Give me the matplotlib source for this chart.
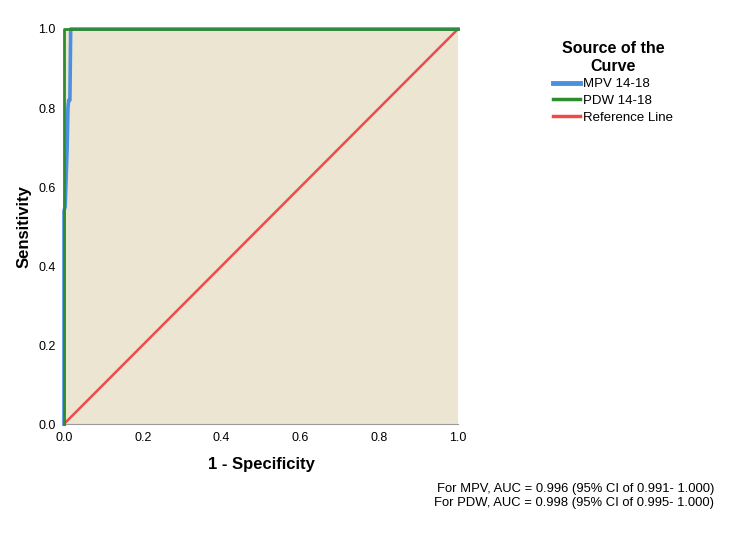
import matplotlib.pyplot as plt
from matplotlib.lines import Line2D

# ROC data
mpv_fpr = [0.0, 0.0, 0.003, 0.008, 0.010, 0.012, 0.015, 0.017, 1.0]
mpv_tpr = [0.0, 0.54, 0.55, 0.70, 0.80, 0.82, 0.82, 1.0, 1.0]
pdw_fpr = [0.0, 0.0, 1.0]
pdw_tpr = [0.0, 1.0, 1.0]
ref_fpr = [0.0, 1.0]
ref_tpr = [0.0, 1.0]

labels = ["MPV 14-18", "PDW 14-18", "Reference Line"]
colors = ["#4a90e2", "#2e8b2e", "#f04a4a"]
ticks = [0.0, 0.2, 0.4, 0.6, 0.8, 1.0]
notes = ["For MPV, AUC = 0.996 (95% CI of 0.991- 1.000)",
         "For PDW, AUC = 0.998 (95% CI of 0.995- 1.000)"]

plt.rcParams['font.family'] = ['Liberation Sans', 'DejaVu Sans']

fig = plt.figure(figsize=(7.44, 5.37), dpi=100)
ax = fig.add_axes([0.086, 0.2104, 0.5296, 0.7356])
ax.set_facecolor("#ebe5d2")

ax.plot(ref_fpr, ref_tpr, color=colors[2], lw=1.8, clip_on=False, zorder=3)
ax.plot(mpv_fpr, mpv_tpr, color=colors[0], lw=2.6, clip_on=False, zorder=4)
ax.plot(pdw_fpr, pdw_tpr, color=colors[1], lw=2.0, clip_on=False, zorder=5)

ax.set_xlim(0, 1)
ax.set_ylim(0, 1)
ax.set_xticks(ticks)
ax.set_yticks(ticks)
ax.set_xticklabels(["%.1f" % t for t in ticks], fontsize=9)
ax.set_yticklabels(["%.1f" % t for t in ticks], fontsize=9)
ax.tick_params(length=0)
ax.tick_params(axis="x", pad=6)
ax.tick_params(axis="y", pad=6)
for s in ["top", "right"]:
    ax.spines[s].set_visible(False)
ax.spines["bottom"].set_color("#9a9a9a")
ax.spines["left"].set_color("#9a9a9a")

ax.set_xlabel("1 - Specificity", fontsize=12, fontweight="bold", labelpad=9)
ax.set_ylabel("Sensitivity", fontsize=12, fontweight="bold", labelpad=5)

handles = [Line2D([0], [0], color=colors[0], lw=3.5),
           Line2D([0], [0], color=colors[1], lw=2.5),
           Line2D([0], [0], color=colors[2], lw=2.5)]
leg = fig.legend(handles, labels, loc="upper left", bbox_to_anchor=(0.727, 0.945),
                 frameon=False, fontsize=9.5, title="Source of the\nCurve",
                 handlelength=2.1, handletextpad=0.2, labelspacing=0.33)
leg.get_title().set_fontweight("bold")
leg.get_title().set_fontsize(11.5)
leg.get_title().set_multialignment("center")
leg.get_title().set_linespacing(1.2)

fig.text(0.96, 0.053, notes[0] + "\n" + notes[1], ha="right", va="bottom",
         fontsize=9.4, linespacing=1.15)

fig.savefig("out.png", dpi=100, facecolor="white")
